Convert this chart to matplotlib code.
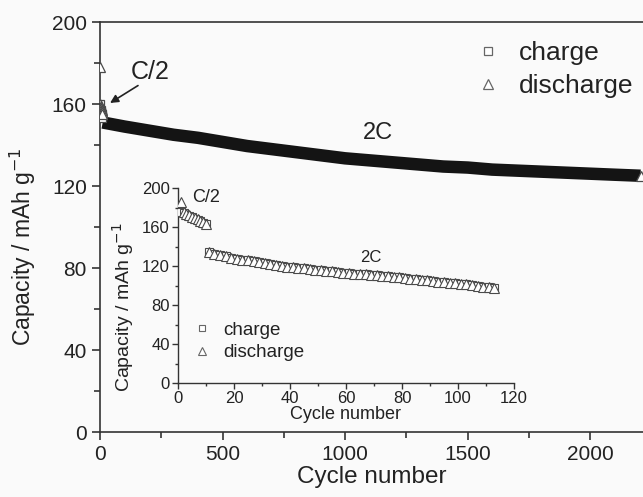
import numpy as np
import matplotlib
matplotlib.use("Agg")
import matplotlib.pyplot as plt
from matplotlib.lines import Line2D
from matplotlib.ticker import MultipleLocator

plt.rcParams['font.family'] = ['Liberation Sans', 'DejaVu Sans']

# ---------------- main plot data ----------------
main_c2_cycles = [1, 2, 3, 4, 5, 6, 7, 8, 9, 10]
main_c2_discharge = [178, 160, 159, 158, 158, 157, 157, 156, 156, 155]
main_c2_charge = [160, 157, 157, 156, 156, 155, 155, 154, 154, 153]

main_2c_cycles = [11, 100, 200, 300, 400, 500, 600, 700, 800, 900, 1000, 1100,
                  1200, 1300, 1400, 1500, 1600, 1700, 1800, 1900, 2000, 2100, 2205]
main_2c_values = [151, 149, 147, 145, 143.5, 141.5, 139.5, 138, 136.5, 135, 133.5,
                  132.5, 131.5, 130.5, 129.5, 129, 128, 127.5, 127, 126.5, 126, 125.5, 125]

# ---------------- inset data ----------------
inset_c2_cycles = [1, 2, 3, 4, 5, 6, 7, 8, 9, 10]
inset_c2_discharge = [186, 175, 173.5, 172, 170.5, 169, 168, 166.5, 165, 163]
inset_c2_charge = [175, 174, 172.5, 171, 170, 168.5, 167, 166, 164.5, 163]

inset_2c_cycles = [11, 13, 15, 17, 19, 21, 23, 25, 27, 29, 31, 33, 35, 37, 39, 41,
                   43, 45, 47, 49, 51, 53, 55, 57, 59, 61, 63, 65, 67, 69, 71, 73,
                   75, 77, 79, 81, 83, 85, 87, 89, 91, 93, 95, 97, 99, 101, 103, 105,
                   107, 109, 111, 113]
inset_2c_values = [134, 132.7, 131.3, 130, 128.7, 127.5, 126.6, 125.7, 124.8, 123.9,
                   123, 122.1, 121.2, 120.3, 119.4, 118.7, 118.1, 117.5, 116.9, 116.3,
                   115.7, 115.1, 114.5, 113.9, 113.3, 112.8, 112.3, 111.8, 111.3, 110.8,
                   110.3, 109.8, 109.3, 108.8, 108.3, 107.7, 107.1, 106.5, 105.9, 105.3,
                   104.7, 104.1, 103.5, 102.9, 102.3, 101.8, 101.1, 100.3, 99.6, 98.8,
                   98, 97.3]

bg = '#fafafa'
mk = '#4a4a4a'
tc = '#222222'

fig = plt.figure(figsize=(6.43, 4.97), dpi=100, facecolor=bg)

# ---------------- main axes ----------------
ax = fig.add_axes([100/643, 65/497, 543/643, 410/497], facecolor=bg)
ax.plot(main_2c_cycles, main_2c_values, color='#141414', lw=9,
        solid_capstyle='butt', solid_joinstyle='round', zorder=2)
ax.plot(main_c2_cycles, main_c2_charge, ls='none', marker='s', ms=6,
        mfc='white', mec=mk, mew=0.9, zorder=3)
ax.plot(main_c2_cycles, main_c2_discharge, ls='none', marker='^', ms=7,
        mfc='white', mec=mk, mew=0.9, zorder=3)
ax.plot([main_2c_cycles[-1]], [main_2c_values[-1]], ls='none', marker='^', ms=7,
        mfc='white', mec=mk, mew=0.9, zorder=3)

ax.set_xlim(0, 2215)
ax.set_ylim(0, 200)
ax.xaxis.set_major_locator(MultipleLocator(500))
ax.xaxis.set_minor_locator(MultipleLocator(250))
ax.yaxis.set_major_locator(MultipleLocator(40))
ax.yaxis.set_minor_locator(MultipleLocator(20))
ax.tick_params(which='both', direction='out', top=False, right=False,
               colors='#333333', labelcolor=tc)
ax.tick_params(which='major', length=6, width=1.2, labelsize=15)
ax.tick_params(which='minor', length=4, width=1.2)
for s in ax.spines.values():
    s.set_color('#333333')
    s.set_linewidth(1.2)
ax.spines['right'].set_visible(False)
ax.set_xlabel('Cycle number', fontsize=17.5, color=tc, labelpad=1)
ax.set_ylabel('Capacity / mAh g$^{-1}$', fontsize=16.5, color=tc)
ax.yaxis.set_label_coords(-62/543, (432-247)/410)

ax.text(204, 175.5, 'C/2', fontsize=18, color=tc, ha='center', va='center')
ax.annotate('', xy=(41, 160.5), xytext=(155, 169),
            arrowprops=dict(arrowstyle='-|>', color=tc, lw=1.2,
                            mutation_scale=12, shrinkA=0, shrinkB=0))
ax.text(1135, 146, '2C', fontsize=17, color=tc, ha='center', va='center')

h1 = Line2D([], [], ls='none', marker='s', ms=6, mfc='white', mec='#666666', mew=0.9)
h2 = Line2D([], [], ls='none', marker='^', ms=7, mfc='white', mec='#666666', mew=0.9)
ax.legend([h1, h2], ['charge', 'discharge'], loc='upper left',
          bbox_to_anchor=((475-100)/543, (432-41)/410), frameon=False, fontsize=19,
          handlelength=1.0, handletextpad=0.65, labelspacing=0.35,
          borderpad=0, borderaxespad=0, labelcolor=tc)

# ---------------- inset axes ----------------
ins = fig.add_axes([178/643, 114/497, 336/643, 195/497], facecolor='none')
ins.plot(inset_2c_cycles, inset_2c_values, ls='none', marker='s', ms=6,
         mfc='white', mec=mk, mew=0.8, zorder=3)
ins.plot(inset_2c_cycles, inset_2c_values, ls='none', marker='^', ms=7,
         mfc='white', mec=mk, mew=0.8, zorder=3)
ins.plot(inset_c2_cycles, inset_c2_charge, ls='none', marker='s', ms=6,
         mfc='white', mec=mk, mew=0.8, zorder=3)
ins.plot(inset_c2_cycles, inset_c2_discharge, ls='none', marker='^', ms=7,
         mfc='white', mec=mk, mew=0.8, zorder=3)
ins.set_xlim(0, 120)
ins.set_ylim(0, 200)
ins.xaxis.set_major_locator(MultipleLocator(20))
ins.xaxis.set_minor_locator(MultipleLocator(10))
ins.yaxis.set_major_locator(MultipleLocator(40))
ins.yaxis.set_minor_locator(MultipleLocator(20))
ins.spines['top'].set_visible(False)
ins.spines['right'].set_visible(False)
for s in ('left', 'bottom'):
    ins.spines[s].set_color('#333333')
    ins.spines[s].set_linewidth(1.0)
ins.tick_params(which='both', direction='out', top=False, right=False,
                colors='#333333', labelcolor=tc)
ins.tick_params(which='major', length=4, width=1.0, labelsize=12, pad=2)
ins.tick_params(which='minor', length=2.5, width=1.0)
ins.set_xlabel('Cycle number', fontsize=13, color=tc, labelpad=0)
ins.set_ylabel('Capacity / mAh g$^{-1}$', fontsize=14, color=tc)
ins.yaxis.set_label_coords(-(178-136)/336, (383-307)/195)
ins.text(10, 190, 'C/2', fontsize=13, color=tc, ha='center', va='center')
ins.text(69, 129, '2C', fontsize=12, color=tc, ha='center', va='center')
ih1 = Line2D([], [], ls='none', marker='s', ms=5, mfc='white', mec='#666666', mew=0.8)
ih2 = Line2D([], [], ls='none', marker='^', ms=6, mfc='white', mec='#666666', mew=0.8)
ins.legend([ih1, ih2], ['charge', 'discharge'], loc='upper left',
           bbox_to_anchor=(0.0435, 0.315), frameon=False, fontsize=13.5,
           handlelength=1.0, handletextpad=0.62, labelspacing=0.3,
           borderpad=0, borderaxespad=0, labelcolor=tc)

fig.savefig('out.png', dpi=100, facecolor=bg)
